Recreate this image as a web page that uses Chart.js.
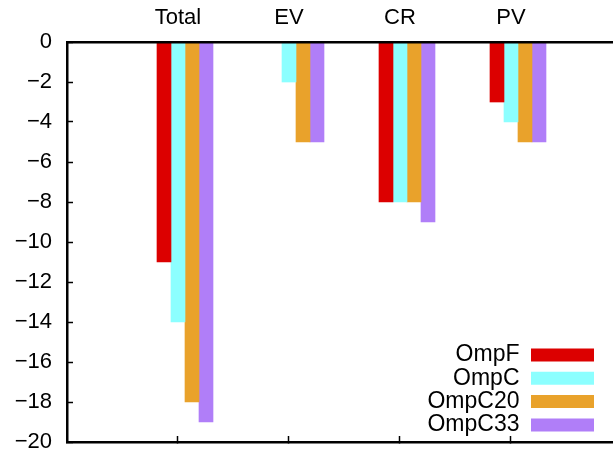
<!DOCTYPE html>
<html>
<head>
<meta charset="utf-8">
<script src="https://cdn.jsdelivr.net/npm/chart.js@4.4.0/dist/chart.umd.min.js"></script>
<style>
  html, body { margin: 0; padding: 0; background: #fff; overflow: hidden; }
</style>
</head>
<body>
<canvas id="grafico" width="613" height="455"></canvas>
<script>
/* Categorías del eje superior y valores de cada serie */
var categorias = ['Total', 'EV', 'CR', 'PV'];
var series = ['OmpF', 'OmpC', 'OmpC20', 'OmpC33'];
var ompF   = [-11,  0, -8, -3];
var ompC   = [-14, -2, -8, -4];
var ompC20 = [-18, -5, -8, -5];
var ompC33 = [-19, -5, -9, -5];
var ticksY = [0, -2, -4, -6, -8, -10, -12, -14, -16, -18, -20];
var colores = ['#dc0000', '#8cffff', '#e9a22b', '#b07ef8'];

var familia = '"Liberation Sans", Arial, Helvetica, sans-serif';
var fuenteEjes = { family: familia, size: 22 };

// Conjuntos: el primero va vacío para dejar el hueco del grupo (como en gnuplot)
var valores = [ompF, ompC, ompC20, ompC33];
var conjuntos = [{ label: '', data: [], backgroundColor: 'rgba(0,0,0,0)' }];
series.forEach(function(nombre, s) {
  conjuntos.push({
    label: nombre,
    data: valores[s].map(function(v, i) { return { x: i, y: v }; }),
    backgroundColor: colores[s],
    borderWidth: 0
  });
});

var marcasX = function(eje) {
  eje.ticks = categorias.map(function(c, i) { return { value: i }; });
};
var rejilla = { drawOnChartArea: false, offset: false, tickLength: -6, tickWidth: 1.5, tickColor: '#000' };
var borde = { display: true, color: '#000', width: 2.5, z: 1 };

/* Mover la leyenda a la esquina inferior derecha */
var moverLeyenda = {
  id: 'moverLeyenda',
  afterLayout: function(chart) {
    var ley = chart.legend;
    var pad = ley.options.labels.padding;
    ley.left = 594 + pad - ley.width;
    ley.right = ley.left + ley.width;
    ley.top = 343.5 - pad;
    ley.bottom = ley.top + ley.height;
  }
};

var ctx = document.getElementById('grafico');
var grafico = new Chart(ctx, {
  type: 'bar',
  data: { datasets: conjuntos },
  plugins: [moverLeyenda],
  options: {
    responsive: false,
    animation: false,
    devicePixelRatio: 1,
    layout: { padding: 0 },
    datasets: { bar: { barThickness: 14 } },
    plugins: {
      tooltip: { enabled: false },
      legend: {
        position: 'chartArea',
        align: 'start',
        rtl: true,
        textDirection: 'ltr',
        labels: {
          font: { family: familia, size: 23 },
          color: '#000',
          boxWidth: 63,
          boxHeight: 13,
          padding: 0.3,
          filter: function(item) { return item.text !== ''; }
        }
      }
    },
    scales: {
      x: {
        type: 'linear',
        position: 'top',
        offset: false,
        min: -1,
        max: 3.919,
        afterBuildTicks: marcasX,
        afterFit: function(eje) { eje.height = 42; eje.paddingLeft = 0; eje.paddingRight = 0; },
        ticks: {
          font: fuenteEjes,
          color: '#000',
          padding: 17,
          maxRotation: 0,
          autoSkip: false,
          callback: function(v) { return categorias[v]; }
        },
        grid: rejilla,
        border: borde
      },
      x2: {
        type: 'linear',
        position: 'bottom',
        offset: false,
        min: -1,
        max: 3.919,
        afterBuildTicks: marcasX,
        afterFit: function(eje) { eje.height = 13; eje.paddingLeft = 0; eje.paddingRight = 0; },
        ticks: { display: false },
        grid: rejilla,
        border: borde
      },
      y: {
        type: 'linear',
        position: 'left',
        min: -20,
        max: 0,
        afterBuildTicks: function(eje) {
          eje.ticks = ticksY.map(function(v) { return { value: v }; });
        },
        afterFit: function(eje) { eje.width = 67; eje.paddingTop = 0; eje.paddingBottom = 0; },
        ticks: {
          font: fuenteEjes,
          color: '#000',
          padding: 21,
          callback: function(v) { return v < 0 ? '\u2212' + (-v) : String(v); }
        },
        grid: rejilla,
        border: borde
      }
    }
  }
});
</script>
</body>
</html>
